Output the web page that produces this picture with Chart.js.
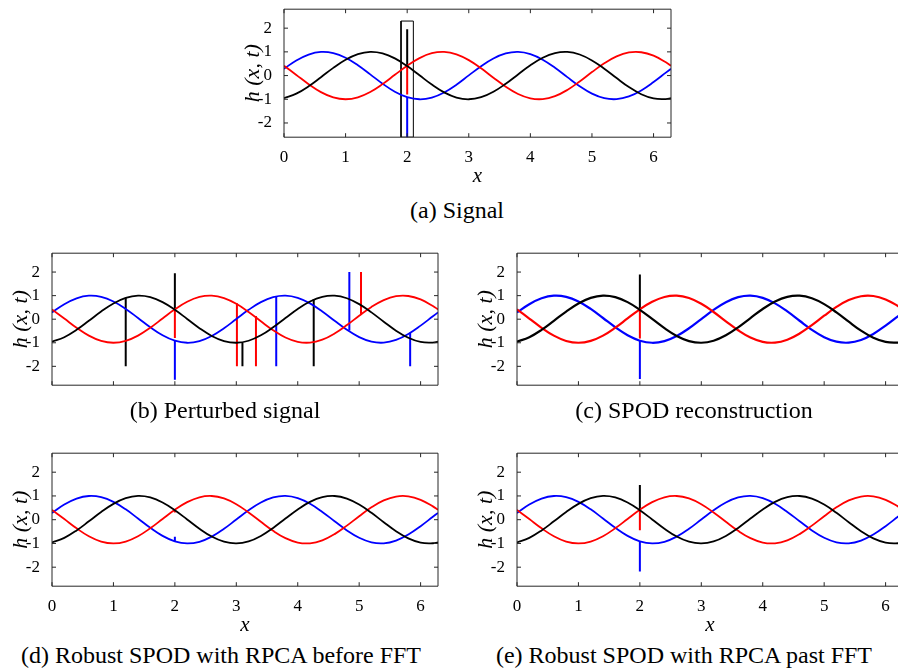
<!DOCTYPE html>
<html>
<head>
<meta charset="utf-8">
<script src="https://cdn.jsdelivr.net/npm/chart.js@4.4.1/dist/chart.umd.min.js"></script>
<style>
body { margin:0; background:#fff; width:898px; height:670px; overflow:hidden; position:relative; font-family:"Liberation Serif", "Times New Roman", Times, serif; }
.wrap { position:absolute; }
.cap { position:absolute; font-size:24px; line-height:24px; white-space:nowrap; transform:translateX(-50%); color:#000; }
</style>
</head>
<body>
<div class="wrap" id="wa"><canvas id="ca"></canvas></div>
<div class="wrap" id="wb"><canvas id="cb"></canvas></div>
<div class="wrap" id="wc"><canvas id="cc"></canvas></div>
<div class="wrap" id="wd"><canvas id="cd"></canvas></div>
<div class="wrap" id="we"><canvas id="ce"></canvas></div>
<div class="cap" style="left:457px;top:198px">(a) Signal</div>
<div class="cap" style="left:225px;top:398px">(b) Perturbed signal</div>
<div class="cap" style="left:694px;top:398px">(c) SPOD reconstruction</div>
<div class="cap" style="left:221px;top:643px">(d) Robust SPOD with RPCA before FFT</div>
<div class="cap" style="left:684px;top:643px">(e) Robust SPOD with RPCA past FFT</div>
<script>
// sample positions along x (0 .. 2pi)
const xs = [0,0.2,0.4,0.6,0.8,1.0,1.2,1.4,1.6,1.8,2.0,2.2,2.4,2.6,2.8,3.0,3.2,3.4,3.6,3.8,4.0,4.2,4.4,4.6,4.8,5.0,5.2,5.4,5.6,5.8,6.0,6.2,6.2832]
// h(x,t)
const blackH = [-0.955,-0.764,-0.452,-0.069,0.325,0.667,0.905,0.999,0.936,0.725,0.399,0.011,-0.380,-0.710,-0.928,-1.000,-0.914,-0.683,-0.345,0.048,0.433,0.750,0.948,0.997,0.888,0.639,0.290,-0.106,-0.486,-0.787,-0.965,-0.991,-0.955]
const redH = [0.414,0.028,-0.364,-0.698,-0.922,-1.000,-0.920,-0.696,-0.361,0.031,0.418,0.738,0.943,0.998,0.896,0.652,0.306,-0.089,-0.470,-0.777,-0.961,-0.993,-0.869,-0.607,-0.250,0.147,0.520,0.812,0.975,0.984,0.838,0.560,0.414]
const blueH = [0.287,0.637,0.887,0.997,0.949,0.752,0.436,0.051,-0.342,-0.681,-0.912,-1.000,-0.929,-0.712,-0.384,0.008,0.396,0.723,0.935,0.999,0.906,0.670,0.328,-0.066,-0.450,-0.762,-0.954,-0.995,-0.880,-0.626,-0.272,0.124,0.287]

const xTicks = [0,1,2,3,4,5,6]
const yTicks = [-2,-1,0,1,2]

// spikes: [x, from, to]
const blackSpikesA = [[2,0.4,1.95]]
const redSpikesA = [[2,0.4,-0.8]]
const blueSpikesA = [[2,-0.9,-2.6]]
const boxX = [1.9,2.1,2.1,1.9,1.9]
const boxY = [-2.6,-2.6,2.3,2.3,-2.6]

const blackSpikesB = [[1.2,0.9,-2],[2,0.4,1.95],[3.1,-1.0,-2],[4.26,0.86,-2]]
const redSpikesB = [[2,0.4,-0.8],[3.01,0.68,-2],[3.32,0.14,-2],[5.03,0.2,2]]
const blueSpikesB = [[2,-0.9,-2.57],[3.65,0.97,-2],[4.84,-0.48,2],[5.83,-0.57,-2]]

const blackSpikesC = [[2,0.4,1.9]]
const redSpikesC = [[2,0.4,-0.82]]
const blueSpikesC = [[2,-0.9,-2.54]]

const blackSpikesD = []
const redSpikesD = [[2,0.42,0.3]]
const blueSpikesD = [[2,-0.92,-0.72]]

const blackSpikesE = [[2,0.4,1.46]]
const redSpikesE = [[2,0.4,-0.44]]
const blueSpikesE = [[2,-0.9,-2.18]]

const FONT = '"Liberation Serif", "Times New Roman", Times, serif'
const BLACK = '#000000', RED = '#ff0000', BLUE = '#0000ff'

function curve(vals, col, w) {
    return { data: xs.map((x, i) => ({x: x, y: vals[i]})), borderColor: col, borderWidth: w,
             pointRadius: 0, tension: 0.4, fill: false }
}
function spikes(list, col) {
    return list.map(s => ({ data: [{x: s[0], y: s[1]}, {x: s[0], y: s[2]}], borderColor: col,
             borderWidth: 2, pointRadius: 0, tension: 0, fill: false }))
}

// box + inward ticks like matlab
const frame = {
    id: 'frame',
    afterDatasetsDraw(chart) {
        const ctx = chart.ctx, a = chart.chartArea, x = chart.scales.x, y = chart.scales.y
        ctx.save()
        ctx.strokeStyle = '#262626'
        ctx.lineWidth = 1
        ctx.beginPath()
        ctx.rect(a.left, a.top, a.right - a.left, a.bottom - a.top)
        xTicks.forEach(v => {
            const p = x.getPixelForValue(v)
            ctx.moveTo(p, a.bottom); ctx.lineTo(p, a.bottom - 4)
            ctx.moveTo(p, a.top); ctx.lineTo(p, a.top + 4)
        })
        yTicks.forEach(v => {
            const p = y.getPixelForValue(v)
            ctx.moveTo(a.left, p); ctx.lineTo(a.left + 4, p)
            ctx.moveTo(a.right, p); ctx.lineTo(a.right - 4, p)
        })
        ctx.stroke()
        ctx.restore()
    }
}

function makePanel(id, t, datasets) {
    const wrap = document.getElementById('w' + id)
    const xh = t.showX ? 54 : 6
    wrap.style.width = (44 + t.w + 8) + 'px'
    wrap.style.height = (12 + t.h + xh) + 'px'
    const chart = new Chart(document.getElementById('c' + id), {
        type: 'line',
        data: { datasets: datasets },
        plugins: [frame],
        options: {
            responsive: true,
            maintainAspectRatio: false,
            animation: false,
            events: [],
            layout: { padding: { top: 12, right: 8, left: 0, bottom: 0 } },
            plugins: { legend: { display: false }, tooltip: { enabled: false } },
            scales: {
                x: {
                    type: 'linear', min: 0, max: 6.2832,
                    afterBuildTicks: s => { s.ticks = xTicks.map(v => ({value: v})) },
                    afterFit: s => { s.height = xh },
                    grid: { display: false },
                    border: { display: false },
                    ticks: { display: t.showX, color: '#000', padding: 2, maxRotation: 0,
                             font: { family: FONT, size: 17 }, callback: v => String(v) },
                    title: { display: t.showX, text: 'x', color: '#000', padding: { top: 0, bottom: 2 },
                             font: { family: FONT, size: 21, style: 'italic' } }
                },
                y: {
                    type: 'linear', min: t.yMin, max: 2.8,
                    afterBuildTicks: s => { s.ticks = yTicks.map(v => ({value: v})) },
                    afterFit: s => { s.width = 44 },
                    grid: { display: false },
                    border: { display: false },
                    ticks: { color: '#000', padding: 4, font: { family: FONT, size: 17 }, callback: v => String(v) },
                    title: { display: true, text: 'h (x, t)', color: '#000', padding: { top: 0, bottom: 0 },
                             font: { family: FONT, size: 22, style: 'italic' } }
                }
            }
        }
    })
    // fit plot area onto the target box
    let a = chart.chartArea
    const dw = t.w - (a.right - a.left), dh = t.h - (a.bottom - a.top)
    if (Math.abs(dw) > 0.5 || Math.abs(dh) > 0.5) {
        wrap.style.width = (parseFloat(wrap.style.width) + dw) + 'px'
        wrap.style.height = (parseFloat(wrap.style.height) + dh) + 'px'
        chart.resize()
        a = chart.chartArea
    }
    wrap.style.left = (t.l - a.left) + 'px'
    wrap.style.top = (t.t - a.top) + 'px'
    return chart
}

function panelSets(bs, rs, us, w) {
    return [curve(blackH, BLACK, w), curve(redH, RED, w), curve(blueH, BLUE, w)]
        .concat(spikes(bs, BLACK), spikes(rs, RED), spikes(us, BLUE))
}

const setsA = panelSets(blackSpikesA, redSpikesA, blueSpikesA, 1.8)
setsA.push({ data: boxX.map((x, i) => ({x: x, y: boxY[i]})), borderColor: '#000', borderWidth: 1,
             pointRadius: 0, tension: 0, fill: false })

makePanel('a', {l: 284, t: 9, w: 387, h: 128, yMin: -2.6, showX: true}, setsA)
makePanel('b', {l: 52, t: 253, w: 386, h: 132, yMin: -2.8, showX: false}, panelSets(blackSpikesB, redSpikesB, blueSpikesB, 1.8))
makePanel('c', {l: 517, t: 253, w: 386, h: 132, yMin: -2.8, showX: false}, panelSets(blackSpikesC, redSpikesC, blueSpikesC, 2.2))
makePanel('d', {l: 52, t: 453, w: 386, h: 133, yMin: -2.8, showX: true}, panelSets(blackSpikesD, redSpikesD, blueSpikesD, 1.8))
makePanel('e', {l: 517, t: 453, w: 386, h: 133, yMin: -2.8, showX: true}, panelSets(blackSpikesE, redSpikesE, blueSpikesE, 1.8))
</script>
</body>
</html>
